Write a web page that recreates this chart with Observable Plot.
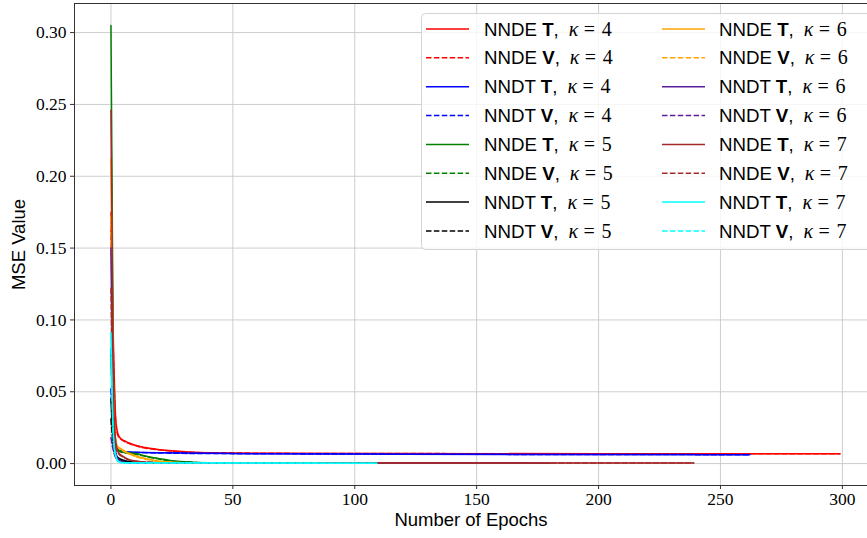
<!DOCTYPE html>
<html>
<head>
<meta charset="utf-8">
<script src="https://cdn.jsdelivr.net/npm/d3@7"></script>
<script src="https://cdn.jsdelivr.net/npm/@observablehq/plot@0.6"></script>
<style>
  body { margin: 0; background: #fff; }
  #chart { position: relative; width: 867px; height: 538px; overflow: hidden; }
</style>
</head>
<body>
<div id="chart"></div>
<script>
// Training (T) and validation (V) MSE per epoch, as [epoch, mse] pairs
const nndeT4 = [[0,0.175],[1,0.085],[2,0.030],[3,0.020],[4,0.0175],[6,0.0155],[8,0.0140],[10,0.0128],[14,0.0112],[20,0.0097],[26,0.0088],[32,0.0081],[40,0.0076],[60,0.0072],[100,0.0070],[200,0.0069],[299,0.0068]];
const nndeV4 = [[0,0.165],[1,0.075],[2,0.028],[3,0.019],[5,0.0160],[10,0.0125],[20,0.0095],[40,0.0075],[100,0.0070],[299,0.0068]];
const nndtT4 = [[0,0.080],[1,0.030],[2,0.012],[3,0.0092],[5,0.0083],[10,0.0079],[30,0.0074],[60,0.0069],[120,0.0065],[262,0.0062]];
const nndtV4 = [[0,0.052],[1,0.020],[2,0.011],[4,0.0086],[10,0.0078],[40,0.0070],[262,0.0062]];
const nndeT5 = [[0,0.305],[1,0.060],[2,0.014],[3,0.0095],[5,0.0082],[10,0.0070],[15,0.0050],[20,0.0034],[25,0.0020],[30,0.0012],[35,0.0007],[45,0.0004],[150,0.0003]];
const nndeV5 = [[0,0.075],[1,0.030],[2,0.012],[4,0.0080],[10,0.0065],[20,0.0030],[30,0.0010],[40,0.0005],[150,0.0003]];
const nndtT5 = [[0,0.045],[1,0.015],[2,0.006],[4,0.0030],[8,0.0012],[15,0.0006],[100,0.0003]];
const nndtV5 = [[0,0.031],[1,0.012],[2,0.005],[4,0.0025],[8,0.0010],[100,0.0003]];
const nndeT6 = [[0,0.212],[1,0.050],[2,0.016],[3,0.0115],[18,0.0022],[22,0.0012],[30,0.0006],[60,0.0003]];
const nndeV6 = [[0,0.172],[1,0.040],[2,0.014],[3,0.0110],[18,0.0020],[30,0.0006],[60,0.0003]];
const nndtT6 = [[0,0.150],[1,0.030],[2,0.008],[3,0.0030],[5,0.0012],[8,0.0006],[180,0.0003]];
const nndtV6 = [[0,0.018],[1,0.009],[2,0.004],[4,0.0015],[8,0.0006],[180,0.0003]];
const nndeT7 = [[0,0.246],[1,0.050],[2,0.015],[3,0.0080],[5,0.0050],[7,0.0030],[10,0.0018],[14,0.0010],[20,0.0006],[239,0.0004]];
const nndeV7 = [[0,0.122],[1,0.035],[2,0.012],[3,0.0070],[5,0.0045],[10,0.0016],[20,0.0006],[239,0.0004]];
const nndtT7 = [[0,0.091],[1,0.020],[2,0.005],[3,0.0015],[5,0.0005],[109,0.0003]];
const nndtV7 = [[0,0.080],[1,0.018],[2,0.005],[3,0.0015],[5,0.0005],[109,0.0003]];

// Series descriptors, in drawing / legend order
const models = ["NNDE","NNDE","NNDT","NNDT"];
const splits = ["T","V","T","V"];
const kappas = [4,5,6,7];
const seriesData = [
  nndeT4, nndeV4, nndtT4, nndtV4,
  nndeT5, nndeV5, nndtT5, nndtV5,
  nndeT6, nndeV6, nndtT6, nndtV6,
  nndeT7, nndeV7, nndtT7, nndtV7
];

// Tick values
const xTicks = [0,50,100,150,200,250,300];
const yTicks = [0,0.05,0.10,0.15,0.20,0.25,0.30];

// Styling
const colorOf = {
  "NNDE4":"red", "NNDT4":"blue",
  "NNDE5":"green", "NNDT5":"black",
  "NNDE6":"orange", "NNDT6":"#5a1d9c",
  "NNDE7":"brown", "NNDT7":"cyan"
};
const dash = "5.5,2.4";
const xDomain = [-14.95, 310.3];
const yDomain = [-0.01525, 0.32025];

const series = [];
kappas.forEach((k, ki) => {
  models.forEach((m, mi) => {
    const idx = ki * 4 + mi;
    series.push({
      model: m, split: splits[mi], kappa: k,
      color: colorOf[m + k],
      rows: seriesData[idx].map(([epoch, mse]) => ({epoch, mse}))
    });
  });
});

const lineMarks = series.map(s => Plot.line(s.rows, {
  x: "epoch", y: "mse",
  stroke: s.color, strokeWidth: 1.5,
  strokeDasharray: s.split === "V" ? dash : null,
  curve: "monotone-x"
}));

const frameColor = "#333";
const svg = Plot.plot({
  width: 867, height: 538,
  marginLeft: 74, marginRight: 0, marginTop: 3, marginBottom: 53,
  style: {fontFamily: "'Liberation Serif', serif", fontSize: "17.5px", background: "white", color: "#000"},
  x: {domain: xDomain},
  y: {domain: yDomain},
  marks: [
    Plot.gridX(xTicks, {stroke: "#c8c8c8", strokeOpacity: 1, strokeWidth: 0.9}),
    Plot.gridY(yTicks, {stroke: "#c8c8c8", strokeOpacity: 1, strokeWidth: 0.9}),
    ...lineMarks,
    Plot.ruleX([xDomain[0]], {stroke: frameColor, strokeWidth: 1}),
    Plot.ruleY([yDomain[0], yDomain[1]], {stroke: frameColor, strokeWidth: 1}),
    Plot.axisX(xTicks, {tickSize: 4, tickPadding: 3, stroke: frameColor, tickFormat: d => String(d),
      label: "Number of Epochs", labelAnchor: "center", labelOffset: 40, labelArrow: "none"}),
    Plot.axisY(yTicks, {tickSize: 4, tickPadding: 4, stroke: frameColor, tickFormat: d3.format(".2f"),
      label: "MSE Value", labelAnchor: "center", labelOffset: 63, labelArrow: "none"})
  ]
});

document.getElementById("chart").appendChild(svg);

const root = d3.select(svg);
root.selectAll('g[aria-label$="axis label"] text')
  .style("font-family", "'Liberation Sans', sans-serif")
  .style("font-size", "18.5px");

// Legend box in the upper right of the plot area
const lg = root.append("g").attr("class", "legend").attr("text-anchor", "start");
lg.append("rect")
  .attr("x", 421.5).attr("y", 13.5).attr("width", 450).attr("height", 236)
  .attr("rx", 4).attr("fill", "white").attr("fill-opacity", 0.8)
  .attr("stroke", "#d4d4d4").attr("stroke-width", 1);

const math = {family: "'Liberation Serif', serif", size: "20px"};
series.forEach((s, i) => {
  const col = i < 8 ? 0 : 1;
  const row = i % 8;
  const cy = 29 + row * 28.85;
  const lx = col ? 662 : 426;
  const tx = col ? 719 : 484;
  const by = cy + 6.6;
  lg.append("line")
    .attr("x1", lx).attr("x2", lx + 43).attr("y1", cy).attr("y2", cy)
    .attr("stroke", s.color).attr("stroke-width", 1.5)
    .attr("stroke-dasharray", s.split === "V" ? dash : null);
  const t = lg.append("text").attr("x", tx).attr("y", by)
    .style("font-family", "'Liberation Sans', sans-serif").style("font-size", "18.7px").attr("fill", "#000");
  t.append("tspan").text(s.model + " ");
  t.append("tspan").attr("font-weight", "bold").text(s.split);
  t.append("tspan").text(",");
  // math part follows the measured end of the label text
  const kx = tx + t.node().getComputedTextLength() + 10;
  lg.append("text").attr("x", kx).attr("y", by)
    .style("font-family", math.family).style("font-size", math.size).style("font-style", "italic")
    .attr("fill", "#000").text("κ");
  lg.append("text").attr("x", kx + 15).attr("y", by)
    .style("font-family", math.family).style("font-size", math.size)
    .attr("fill", "#000").text("=");
  lg.append("text").attr("x", kx + 33).attr("y", by)
    .style("font-family", math.family).style("font-size", math.size)
    .attr("fill", "#000").text(String(s.kappa));
});
</script>
</body>
</html>
